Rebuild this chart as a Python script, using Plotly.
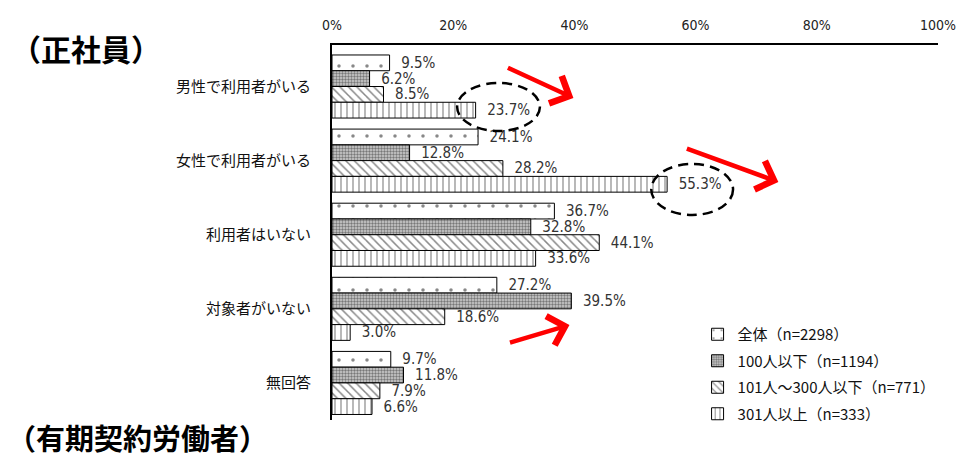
import plotly.graph_objects as go

# Categories (top to bottom) and series values in percent
categories = ["男性で利用者がいる", "女性で利用者がいる", "利用者はいない", "対象者がいない", "無回答"]
series_names = ["全体（n=2298）", "100人以下（n=1194）", "101人～300人以下（n=771）", "301人以上（n=333）"]
total_all = [9.5, 24.1, 36.7, 27.2, 9.7]
under_100 = [6.2, 12.8, 32.8, 39.5, 11.8]
from_101_to_300 = [8.5, 28.2, 44.1, 18.6, 7.9]
over_301 = [23.7, 55.3, 33.6, 3.0, 6.6]
x_ticks = [0, 20, 40, 60, 80, 100]
x_tick_labels = [f"{v}%" for v in x_ticks]

W, H = 968, 458
ML, MR, MT, MB = 332, 21, 45, 38

def px_x(px):
    return (px - ML) / (W - ML - MR)

def px_y(py):
    return (H - MB - py) / (H - MT - MB)

patterns = [
    dict(shape=".", bgcolor="white", fgcolor="#111", size=14, solidity=0.05),
    dict(shape=".", bgcolor="#cfcfcf", fgcolor="#222", size=3, solidity=0.5),
    dict(shape="\\", bgcolor="white", fgcolor="#111", size=6, solidity=0.25),
    dict(shape="|", bgcolor="white", fgcolor="#111", size=6, solidity=0.2),
]

label_font = dict(family="Liberation Sans Narrow, DejaVu Sans Condensed, Arial Narrow, sans-serif",
                  size=15, color="#333")
jp_font = "Noto Sans CJK JP, sans-serif"

fig = go.Figure()
for i, (name, vals) in enumerate(zip(series_names,
                                     [total_all, under_100, from_101_to_300, over_301])):
    fig.add_trace(go.Bar(
        y=categories, x=vals, name=name, orientation="h",
        marker=dict(color="white", line=dict(color="black", width=1), pattern=patterns[i]),
        text=vals, texttemplate="\u00a0\u00a0%{x:.1f}%", textposition="outside",
        textfont=label_font, cliponaxis=False, constraintext="none",
        legendgroup=f"g{i}",
    ))

fig.update_layout(
    width=W, height=H,
    margin=dict(l=ML, r=MR, t=MT, b=MB),
    plot_bgcolor="white", paper_bgcolor="white",
    barmode="group", bargap=0.149, bargroupgap=0,
    font=dict(family=jp_font, color="#111"),
    showlegend=True,
    legend=dict(x=px_x(703), y=px_y(318), xanchor="left", yanchor="top",
                xref="paper", yref="paper", traceorder="grouped",
                font=dict(family=jp_font, size=15, color="#111"),
                tracegroupgap=4, itemwidth=30, bgcolor="rgba(0,0,0,0)"),
    xaxis=dict(side="top", range=[0, 100], tickvals=x_ticks, ticktext=x_tick_labels,
               showgrid=False, zeroline=False, showline=True, linecolor="black", linewidth=2,
               ticks="", ticklabelstandoff=7,
               tickfont=dict(family=label_font["family"], size=14, color="#222")),
    yaxis=dict(range=[4.5, -0.56], showgrid=False, zeroline=False,
               showline=True, linecolor="black", linewidth=2, ticks="",
               ticklabelstandoff=16,
               tickfont=dict(family=jp_font, size=15, color="#111")),
)

# Section headings
fig.add_annotation(text="<b>（正社員）</b>", xref="paper", yref="paper",
                   x=px_x(4), y=px_y(48), xanchor="left", yanchor="middle", showarrow=False,
                   font=dict(family=jp_font, size=30, color="black"))
fig.add_annotation(text="<b>（有期契約労働者）</b>", xref="paper", yref="paper",
                   x=px_x(0), y=px_y(437), xanchor="left", yanchor="middle", showarrow=False,
                   font=dict(family=jp_font, size=29, color="black"))

# Dashed ellipses highlighting the 301+ employee results
for x0, x1, y0, y1 in [(459, 543, 83, 131), (656, 739, 164, 215)]:
    fig.add_shape(type="circle", xref="paper", yref="paper",
                  x0=px_x(x0), x1=px_x(x1), y0=px_y(y1), y1=px_y(y0),
                  line=dict(color="black", width=2.5, dash="10px,6px"), layer="above")

# Red trend arrows (tail offset given in pixels from the head)
for tx, ty, hx, hy in [(510, 67, 577, 98), (692, 148, 785, 182), (512, 343, 573, 325)]:
    fig.add_annotation(xref="paper", yref="paper", axref="pixel", ayref="pixel",
                       x=px_x(hx), y=px_y(hy), ax=tx - hx, ay=ty - hy,
                       text="", showarrow=True, arrowhead=4, arrowsize=1.3,
                       arrowwidth=4.5, arrowcolor="#ff0000", standoff=0)

fig.write_html("out.html")
